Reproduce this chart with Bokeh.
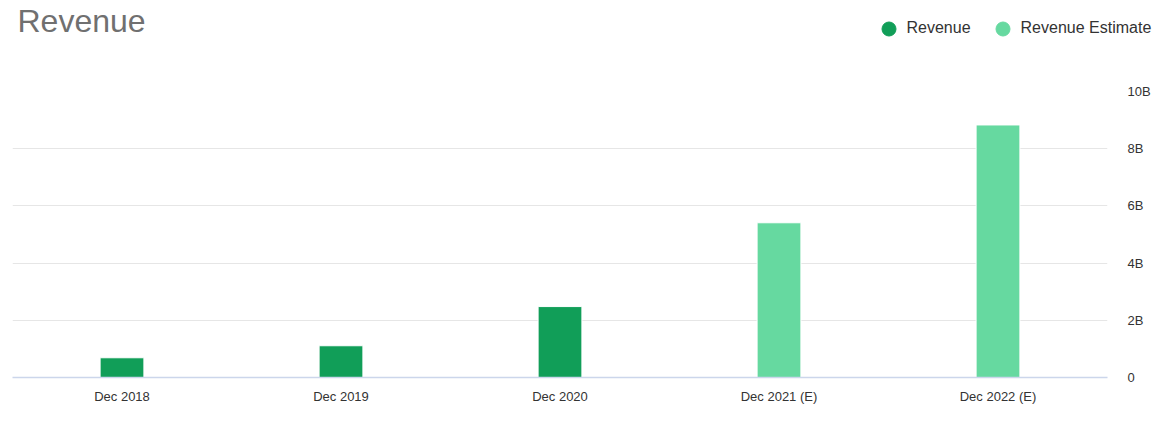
from bokeh.plotting import figure
from bokeh.layouts import column
from bokeh.models import (ColumnDataSource, FactorRange, Range1d, FixedTicker,
                          Legend, LegendItem, Label, LinearAxis)
from bokeh.embed import file_html
from bokeh.resources import INLINE

categories = ["Dec 2018", "Dec 2019", "Dec 2020", "Dec 2021 (E)", "Dec 2022 (E)"]
revenue = [0.69, 1.11, 2.48, None, None]           # billions
revenue_estimate = [None, None, None, 5.41, 8.83]  # billions
y_ticks = [0, 2, 4, 6, 8, 10]
y_tick_labels = ["0", "2B", "4B", "6B", "8B", "10B"]

C_REV = "#119e58"
C_EST = "#66d9a0"
FONT = "Liberation Sans"

rev_cats = [c for c, v in zip(categories, revenue) if v is not None]
rev_vals = [v for v in revenue if v is not None]
est_cats = [c for c, v in zip(categories, revenue_estimate) if v is not None]
est_vals = [v for v in revenue_estimate if v is not None]

W = 1159
HEAD_H = 83

# ---------- header: title + legend ----------
head = figure(width=W, height=HEAD_H, x_range=Range1d(0, W), y_range=Range1d(0, HEAD_H),
              output_backend="svg", toolbar_location=None,
              x_axis_location=None, y_axis_location=None)
head.frame_align = False
head.min_border = 0
head.min_border_left = 0
head.min_border_right = 0
head.min_border_top = 0
head.min_border_bottom = 0
head.outline_line_color = None
head.xgrid.visible = False
head.ygrid.visible = False

title = Label(x=17, y=HEAD_H - 20, text="Revenue",
              text_font=FONT, text_font_size="32px", text_color="#707070",
              text_baseline="alphabetic")
head.add_layout(title)

# legend swatches (no visible points: coordinates are NaN)
src_sw = ColumnDataSource(data=dict(x=[float("nan")], y=[float("nan")]))
r1 = head.scatter(x="x", y="y", source=src_sw, marker="circle", size=14,
                  fill_color=C_REV, line_color=C_REV)
r2 = head.scatter(x="x", y="y", source=src_sw, marker="circle", size=14,
                  fill_color=C_EST, line_color=C_EST)
legend = Legend(items=[LegendItem(label="Revenue", renderers=[r1]),
                       LegendItem(label="Revenue Estimate", renderers=[r2])],
                orientation="horizontal", location=(870.5, HEAD_H - 45.5),
                glyph_width=35, glyph_height=35, label_standoff=1, spacing=14,
                padding=0, margin=0, background_fill_alpha=0, border_line_alpha=0,
                label_text_font=FONT, label_text_font_size="16px",
                label_text_color="#333333", label_height=35)
head.add_layout(legend, "center")

# ---------- chart ----------
p = figure(width=W, height=425 - HEAD_H, x_range=FactorRange(*categories, range_padding=0),
           y_range=Range1d(0, 10), output_backend="svg", toolbar_location=None,
           y_axis_location=None)
p.frame_align = False
p.min_border_left = 12
p.min_border_right = 52
p.min_border_top = 8
p.min_border_bottom = 48
p.outline_line_color = None

p.vbar(x=rev_cats, top=rev_vals, width=0.2, fill_color=C_REV, line_color="white", line_width=1)
p.vbar(x=est_cats, top=est_vals, width=0.2, fill_color=C_EST, line_color="white", line_width=1)

xa = p.xaxis[0]
xa.axis_line_color = "#ccd6eb"
xa.axis_line_width = 1.5
xa.major_tick_line_color = None
xa.minor_tick_line_color = None
xa.major_label_text_font = FONT
xa.major_label_text_font_size = "13px"
xa.major_label_text_color = "#333333"
xa.major_label_standoff = 5

ya = LinearAxis(ticker=FixedTicker(ticks=y_ticks),
                major_label_overrides={t: l for t, l in zip(y_ticks, y_tick_labels)})
ya.axis_line_color = None
ya.major_tick_line_color = None
ya.minor_tick_line_color = None
ya.major_label_text_font = FONT
ya.major_label_text_font_size = "13px"
ya.major_label_text_color = "#333333"
ya.major_label_standoff = 14
p.add_layout(ya, "right")

p.xgrid.grid_line_color = None
p.ygrid.ticker = FixedTicker(ticks=y_ticks)
p.ygrid.grid_line_color = "#e6e6e6"
p.ygrid.grid_line_width = 1

open("out.html", "w").write(file_html(column(head, p, spacing=0), INLINE))
